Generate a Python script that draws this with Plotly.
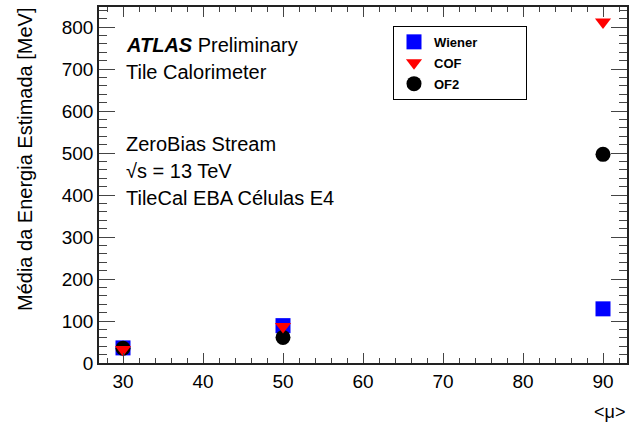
import plotly.graph_objects as go

mu = [30, 50, 90]
wiener = [36, 89, 129]
cof = [32, 87, 812]
of2 = [35, 61, 497]

x_range = [27, 93]
y_range = [0, 848]

FONT = "Liberation Sans, Arial, sans-serif"
W, H = 642, 425
L, R, T, B = 99, 15, 5, 62
pw, ph = W - L - R, H - T - B

def px_x(x):
    return (x - L) / pw

def px_y(y):
    return (H - B - y) / ph

NB = "\u00a0"
fig = go.Figure()
fig.add_trace(go.Scatter(x=mu, y=wiener, mode="markers", name="<b>Wiener</b>" + NB * 12, legendrank=1,
                         legendgroup="a",
                         marker=dict(symbol="square", size=15, color="#0000ff")))
fig.add_trace(go.Scatter(x=mu, y=of2, mode="markers", name="<b>OF2</b>", legendrank=3,
                         legendgroup="c",
                         marker=dict(symbol="circle", size=15, color="#000000")))
fig.add_trace(go.Scatter(x=mu, y=cof, mode="markers", name="<b>COF</b>", legendrank=2,
                         legendgroup="b",
                         marker=dict(symbol="triangle-down", size=14, color="#ff0000")))

axis_common = dict(
    showgrid=False, zeroline=False, showline=True, linecolor="#222", linewidth=1.5,
    ticks="inside", mirror="ticks", tickcolor="#444", tickwidth=1,
    tickfont=dict(family=FONT, size=19, color="black"),
)
fig.update_xaxes(range=x_range, dtick=10, tick0=0, ticklen=10,
                 minor=dict(dtick=2, ticklen=5, ticks="inside", tickcolor="#444"),
                 **axis_common)
fig.update_yaxes(range=y_range, dtick=100, tick0=0, ticklen=16,
                 minor=dict(dtick=20, ticklen=8, ticks="inside", tickcolor="#444"),
                 **axis_common)

texts = [
    ("<b><i>ATLAS</i></b> Preliminary", 43),
    ("Tile Calorimeter", 70),
    ("ZeroBias Stream", 143),
    ("√s = 13 TeV", 170),
    ("TileCal EBA Células E4", 197),
]
for t, yc in texts:
    fig.add_annotation(text=t, xref="paper", yref="paper", x=px_x(124), y=px_y(yc),
                       xanchor="left", yanchor="middle", showarrow=False,
                       font=dict(family=FONT, size=20, color="black"))

fig.add_annotation(text="Média da Energia Estimada [MeV]", xref="paper", yref="paper",
                   x=px_x(25), y=px_y(3), xanchor="center", yanchor="top", textangle=-90,
                   showarrow=False, font=dict(family=FONT, size=20, color="black"))
fig.add_annotation(text="<μ>", xref="paper", yref="paper",
                   x=px_x(627), y=px_y(412), xanchor="right", yanchor="middle",
                   showarrow=False, font=dict(family=FONT, size=18, color="black"))

fig.update_layout(
    width=W, height=H, margin=dict(l=L, r=R, t=T, b=B),
    paper_bgcolor="white", plot_bgcolor="white",
    showlegend=True,
    legend=dict(x=px_x(393), y=px_y(24), xanchor="left", yanchor="top",
                bordercolor="black", borderwidth=1, bgcolor="white",
                font=dict(family=FONT, size=13, color="black"),
                tracegroupgap=1),
)

fig.write_html("out.html")
